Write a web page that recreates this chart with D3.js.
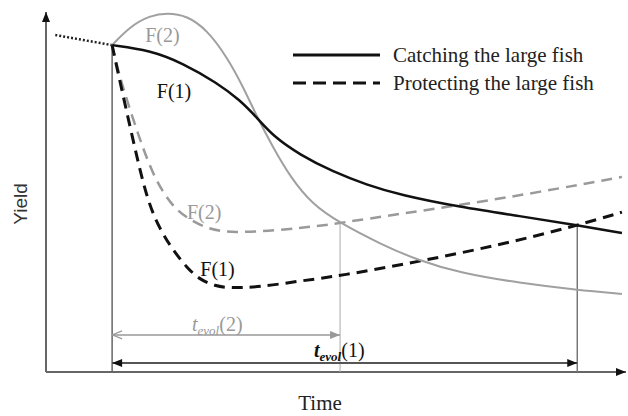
<!DOCTYPE html>
<html>
<head>
<meta charset="utf-8">
<script src="https://cdn.jsdelivr.net/npm/d3@7"></script>
<style>
  body { margin: 0; background: #fff; }
</style>
</head>
<body>
<div id="chart"></div>
<script>
// yield over time ([time, yield] on a 0..100 scale)
var preTrend = [[1.6, 93.6], [11.4, 90.8]];

var catchF1 = [[11.4, 90.8], [17.9, 89.4], [23.6, 85.8], [29.5, 80.3], [33.4, 75.6], [36.4, 70.6],
  [39.1, 65.6], [43.8, 60.3], [49.5, 55.6], [55.3, 52.0], [61.0, 49.2], [71.4, 45.8], [81.7, 43.3],
  [91.6, 40.8], [99.3, 38.6]];

var catchF2 = [[11.4, 90.8], [14.5, 96.0], [17.9, 99.0], [20.9, 99.8], [24.3, 99.0], [27.8, 95.0],
  [31.2, 87.5], [34.0, 79.2], [36.4, 70.8], [39.1, 62.5], [42.1, 54.2], [46.0, 46.4], [50.7, 41.4],
  [57.6, 35.6], [64.0, 31.1], [71.4, 27.5], [81.7, 24.7], [91.6, 22.8], [99.3, 21.7]];

var protectF1 = [[11.4, 90.8], [12.2, 84.7], [15.0, 64.4], [17.4, 47.8], [19.7, 39.4], [21.9, 33.9],
  [24.3, 28.9], [26.6, 25.6], [29.1, 23.9], [31.7, 23.3], [36.9, 23.6], [43.8, 25.3], [50.7, 26.7],
  [64.0, 30.6], [78.3, 35.3], [91.6, 40.7], [99.3, 44.4]];

var protectF2 = [[11.4, 90.8], [12.8, 81.1], [16.2, 64.4], [18.8, 53.3], [21.9, 45.8], [24.3, 42.8],
  [27.8, 39.7], [32.2, 38.6], [40.3, 39.4], [47.2, 40.6], [50.7, 41.4], [61.0, 43.9], [71.4, 46.4],
  [85.2, 50.0], [99.3, 54.2]];

// moment of change and the two t_evol crossing points
var startT = 11.4;
var evolT = [50.7, 91.6];
var evolY = [41.4, 40.8];

var legendLabels = ["Catching the large fish", "Protecting the large fish"];
var curveLabels = ["F(2)", "F(1)", "F(2)", "F(1)"];

// set the dimensions of the graph
var width = 628, height = 416;
var serif = "'Liberation Serif', 'Times New Roman', 'DejaVu Serif', serif";

var x = d3.scaleLinear().domain([0, 100]).range([46, 626]);
var y = d3.scaleLinear().domain([0, 100]).range([372, 12]);

var valueline = d3.line()
  .x(function(d) { return x(d[0]); })
  .y(function(d) { return y(d[1]); })
  .curve(d3.curveBasis);

var svg = d3.select("#chart").append("svg")
  .attr("width", width)
  .attr("height", height)
  .style("font-family", serif);

// arrow heads
var defs = svg.append("defs");
function arrow(id, color, open) {
  var m = defs.append("marker")
    .attr("id", id)
    .attr("viewBox", "0 0 10 10")
    .attr("refX", 10).attr("refY", 5)
    .attr("markerUnits", "userSpaceOnUse")
    .attr("markerWidth", 12).attr("markerHeight", 10)
    .attr("orient", "auto-start-reverse");
  if (open) {
    m.append("path").attr("d", "M0,1 L10,5 L0,9")
      .attr("fill", "none").attr("stroke", color).attr("stroke-width", 1.2);
  } else {
    m.append("path").attr("d", "M0,1 L10,5 L0,9 Z").attr("fill", color);
  }
}
arrow("ahBlack", "#111", false);
arrow("ahGray", "#999", false);
arrow("ahOpen", "#999", true);

// axes
svg.append("line")
  .attr("x1", x(0)).attr("y1", y(0)).attr("x2", x(0)).attr("y2", y(100))
  .attr("stroke", "#666").attr("stroke-width", 2)
  .attr("marker-end", "url(#ahBlack)");
svg.append("line")
  .attr("x1", x(0)).attr("y1", y(0)).attr("x2", x(100)).attr("y2", y(0))
  .attr("stroke", "#666").attr("stroke-width", 2)
  .attr("marker-end", "url(#ahBlack)");

svg.append("text")
  .attr("transform", "translate(27,204) rotate(-90)")
  .attr("text-anchor", "middle")
  .style("font-family", "'Liberation Sans', Arial, sans-serif")
  .style("font-size", "19px")
  .attr("fill", "#333")
  .text("Yield");
svg.append("text")
  .attr("x", 320).attr("y", 410)
  .attr("text-anchor", "middle")
  .style("font-size", "21px")
  .attr("fill", "#222")
  .text("Time");

// vertical guide lines
svg.append("line")
  .attr("x1", x(startT)).attr("x2", x(startT))
  .attr("y1", y(preTrend[1][1])).attr("y2", y(0))
  .attr("stroke", "#666").attr("stroke-width", 1.5);
svg.append("line")
  .attr("x1", x(evolT[0])).attr("x2", x(evolT[0]))
  .attr("y1", y(evolY[0])).attr("y2", y(0))
  .attr("stroke", "#aaa").attr("stroke-width", 1);
svg.append("line")
  .attr("x1", x(evolT[1])).attr("x2", x(evolT[1]))
  .attr("y1", y(evolY[1])).attr("y2", y(0))
  .attr("stroke", "#777").attr("stroke-width", 1.5);

// curves
svg.append("path").datum(preTrend)
  .attr("d", valueline).attr("fill", "none")
  .attr("stroke", "#222").attr("stroke-width", 2.5).attr("stroke-dasharray", "2,2");
svg.append("path").datum(protectF2)
  .attr("d", valueline).attr("fill", "none")
  .attr("stroke", "#9a9a9a").attr("stroke-width", 2.5).attr("stroke-dasharray", "11,7");
svg.append("path").datum(protectF1)
  .attr("d", valueline).attr("fill", "none")
  .attr("stroke", "#111").attr("stroke-width", 3).attr("stroke-dasharray", "11,7");
svg.append("path").datum(catchF2)
  .attr("d", valueline).attr("fill", "none")
  .attr("stroke", "#a0a0a0").attr("stroke-width", 2);
svg.append("path").datum(catchF1)
  .attr("d", valueline).attr("fill", "none")
  .attr("stroke", "#111").attr("stroke-width", 2.5);

// curve labels
var labelPos = [[17.1, 91.7], [19.1, 76.1], [24.3, 42.5], [26.6, 26.7]];
var labelCol = ["#999", "#111", "#999", "#111"];
svg.selectAll(".flab").data(curveLabels).enter().append("text")
  .attr("class", "flab")
  .attr("x", function(d, i) { return x(labelPos[i][0]); })
  .attr("y", function(d, i) { return y(labelPos[i][1]); })
  .attr("fill", function(d, i) { return labelCol[i]; })
  .style("font-size", "20px")
  .text(function(d) { return d; });

// t_evol arrows
svg.append("line")
  .attr("x1", x(startT)).attr("x2", x(evolT[0]))
  .attr("y1", y(10.3)).attr("y2", y(10.3))
  .attr("stroke", "#999").attr("stroke-width", 1.5)
  .attr("marker-start", "url(#ahOpen)")
  .attr("marker-end", "url(#ahGray)");
svg.append("line")
  .attr("x1", x(startT)).attr("x2", x(evolT[1]))
  .attr("y1", y(2.5)).attr("y2", y(2.5))
  .attr("stroke", "#555").attr("stroke-width", 2)
  .attr("marker-start", "url(#ahBlack)")
  .attr("marker-end", "url(#ahBlack)");

var t2 = svg.append("text").attr("x", 192).attr("y", 331)
  .attr("fill", "#999").style("font-size", "20px");
t2.append("tspan").style("font-style", "italic").text("t");
t2.append("tspan").attr("dy", 4).style("font-style", "italic").style("font-size", "13px").text("evol");
t2.append("tspan").attr("dy", -4).text("(2)");

var t1 = svg.append("text").attr("x", 314).attr("y", 357)
  .attr("fill", "#111").style("font-size", "20px");
t1.append("tspan").style("font-style", "italic").style("font-weight", "bold").text("t");
t1.append("tspan").attr("dy", 4).style("font-style", "italic").style("font-weight", "bold").style("font-size", "13px").text("evol");
t1.append("tspan").attr("dy", -4).text("(1)");

// legend
var legend = svg.selectAll(".legend").data(legendLabels).enter().append("g")
  .attr("class", "legend")
  .attr("transform", function(d, i) { return "translate(293," + (55 + i * 28) + ")"; });
legend.append("line")
  .attr("x1", 0).attr("x2", 87).attr("y1", 0).attr("y2", 0)
  .attr("stroke", "#111").attr("stroke-width", 3)
  .attr("stroke-dasharray", function(d, i) { return i ? "13,7" : null; });
legend.append("text")
  .attr("x", 100).attr("y", 7)
  .attr("fill", "#222")
  .style("font-size", "21px")
  .text(function(d) { return d; });
</script>
</body>
</html>
